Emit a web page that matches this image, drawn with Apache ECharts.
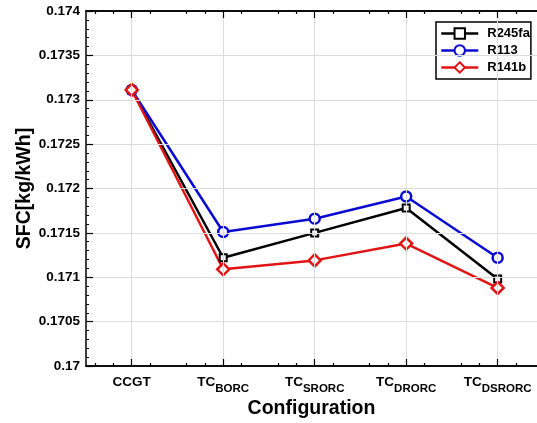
<!DOCTYPE html>
<html style="height: 100%">
	<head>
		<meta charset="utf-8">
	</head>
	<body style="height: 100%; margin: 0; background: #fff">
		<div id="container" style="width: 537px; height: 423px"></div>
		<script src="https://cdn.jsdelivr.net/npm/echarts@6/dist/echarts.min.js" type="text/javascript" charset="utf-8"></script>
		<script type="text/javascript">
			// 类别: 主文字 + 下标
			var catMain = ['CCGT', 'TC', 'TC', 'TC', 'TC'];
			var catSub = ['', 'BORC', 'SRORC', 'DRORC', 'DSRORC'];

			// SFC [kg/kWh]
			var sfcR245fa = [0.17311, 0.17122, 0.17150, 0.17178, 0.17098];
			var sfcR113 = [0.17311, 0.17151, 0.17166, 0.17191, 0.17122];
			var sfcR141b = [0.17311, 0.17109, 0.17119, 0.17138, 0.17088];

			var font = 'Liberation Sans, Arial, sans-serif';

			// 类别位置 1..n
			var catPos = catMain.map(function (c, i) { return i + 1; });
			var minorPos = [];
			for (var i = 0; i < catPos.length + 1; i++) {
				for (var k = 1; k < 5; k++) {
					var p = +(0.4 + i + k * 0.2).toFixed(1);
					if (p > 0.5 && p < 5.43 && p % 1 !== 0) minorPos.push(p);
				}
			}

			function pairs(arr) {
				return arr.map(function (v, i) { return [catPos[i], v]; });
			}

			var myChart = echarts.init(document.getElementById('container'));

			function xAx(pos, ticks, len, showLabel) {
				return {
					type: 'value',
					position: pos,
					min: 0.5,
					max: 5.43,
					z: 5,
					axisLine: { show: true, onZero: false, lineStyle: { color: '#000', width: 1.5 } },
					axisTick: { show: true, inside: true, length: len, customValues: ticks, lineStyle: { color: '#000', width: 1.2 } },
					axisLabel: {
						show: showLabel,
						customValues: catPos,
						margin: 4,
						formatter: function (v) {
							var i = Math.round(v) - 1;
							return '{m|' + catMain[i] + '}{s|' + (catSub[i] || '\u200b') + '}';
						},
						rich: {
							m: { fontFamily: font, fontWeight: 'bold', fontSize: 13.5, color: '#000' },
							s: { fontFamily: font, fontWeight: 'bold', fontSize: 11.5, color: '#000', padding: [13, 0, 0, 0] }
						}
					},
					splitLine: { show: false }
				};
			}

			var option = {
				backgroundColor: '#fff',
				animation: false,
				grid: { left: 86, top: 11, right: 0, bottom: 57, outerBoundsMode: 'none' },
				legend: {
					data: ['R245fa', 'R113', 'R141b'],
					orient: 'vertical',
					left: 436,
					top: 22,
					backgroundColor: '#fff',
					borderColor: '#000',
					borderWidth: 1.5,
					borderRadius: 0,
					padding: [5, 1, 5, 4],
					itemGap: 4,
					itemWidth: 37,
					itemHeight: 13,
					lineStyle: { width: 2.5 },
					textStyle: { fontFamily: font, fontWeight: 'bold', fontSize: 13, color: '#000', padding: [0, 0, 0, 4] }
				},
				xAxis: [
					(function () {
						var a = xAx('bottom', catPos, 7, true);
						a.name = 'Configuration';
						a.nameLocation = 'middle';
						a.nameGap = 33;
						a.nameMoveOverlap = false;
						a.nameTextStyle = { fontFamily: font, fontWeight: 'bold', fontSize: 19.5, color: '#000' };
						return a;
					})(),
					xAx('bottom', minorPos, 3, false),
					xAx('top', catPos, 7, false),
					xAx('top', minorPos, 3, false)
				],
				yAxis: {
					type: 'value',
					min: 0.17,
					max: 0.174,
					interval: 0.0005,
					z: 5,
					name: 'SFC[kg/kWh]',
					nameLocation: 'middle',
					nameGap: 51,
					nameMoveOverlap: false,
					nameTextStyle: { fontFamily: font, fontWeight: 'bold', fontSize: 19.5, color: '#000' },
					axisLine: { show: true, lineStyle: { color: '#000', width: 1.5 } },
					axisTick: { show: true, inside: true, length: 7, lineStyle: { color: '#000', width: 1.2 } },
					minorTick: { show: true, splitNumber: 5, length: 3, lineStyle: { color: '#000', width: 1 } },
					axisLabel: {
						margin: 6,
						fontFamily: font,
						fontWeight: 'bold',
						fontSize: 13.5,
						color: '#000',
						formatter: function (v) { return String(+v.toFixed(4)); }
					},
					splitLine: { show: true, lineStyle: { color: '#dcdcdc', width: 1 } }
				},
				series: [
					{
						// 竖向网格线
						name: 'grid',
						type: 'line',
						data: [],
						silent: true,
						z: 0,
						markLine: {
							silent: true,
							symbol: 'none',
							label: { show: false },
							lineStyle: { color: '#dcdcdc', width: 1, type: 'solid' },
							data: catPos.map(function (p) { return { xAxis: p }; })
						}
					},
					{
						name: 'R245fa',
						type: 'line',
						data: pairs(sfcR245fa),
						symbol: 'rect',
						symbolSize: 7,
						color: '#000',
						lineStyle: { color: '#000', width: 2.5 },
						itemStyle: { color: '#fff', borderColor: '#000', borderWidth: 2 }
					},
					{
						name: 'R113',
						type: 'line',
						data: pairs(sfcR113),
						symbol: 'circle',
						symbolSize: 10,
						color: '#0a0ad0',
						lineStyle: { color: '#0a0ad0', width: 2.5 },
						itemStyle: { color: '#fff', borderColor: '#0a0ad0', borderWidth: 2.5 }
					},
					{
						name: 'R141b',
						type: 'line',
						data: pairs(sfcR141b),
						symbol: 'diamond',
						symbolSize: 12,
						color: '#e01414',
						lineStyle: { color: '#e01414', width: 2.5 },
						itemStyle: { color: '#fff', borderColor: '#e01414', borderWidth: 2.5 }
					}
				]
			};
			myChart.setOption(option);
		</script>
	</body>
</html>
